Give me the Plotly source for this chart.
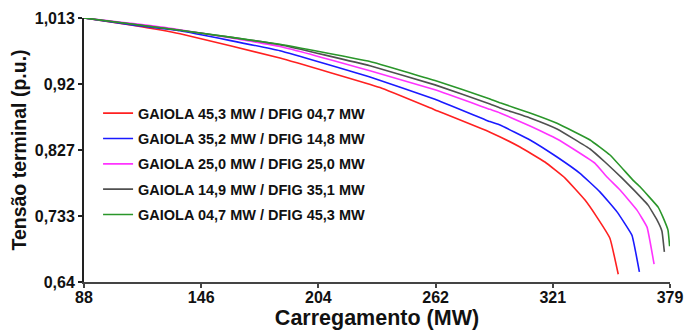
import numpy as np
import plotly.graph_objects as go

# Loading (MW) vs terminal voltage (p.u.) for each cage/DFIG generation split
series_names = [
    "GAIOLA 45,3 MW / DFIG 04,7 MW",
    "GAIOLA 35,2 MW / DFIG 14,8 MW",
    "GAIOLA 25,0 MW / DFIG 25,0 MW",
    "GAIOLA 14,9 MW / DFIG 35,1 MW",
    "GAIOLA 04,7 MW / DFIG 45,3 MW",
]
series_colors = ["#ff2020", "#1a1aff", "#ff33ff", "#505050", "#2a962a"]

red_x = [88, 112.8, 135.7, 185.3, 235.0, 262.3, 289.6, 304.5, 316.9, 326.9, 336.8, 342.7, 349.2, 353.3]
red_y = [1.013, 1.0025, 0.9908, 0.9564, 0.9147, 0.8831, 0.8516, 0.8307, 0.8095, 0.7868, 0.7557, 0.7316, 0.7015, 0.6509]

blue_x = [88, 112.8, 135.7, 185.3, 230.0, 262.3, 289.6, 294.6, 309.5, 322.9, 334.3, 344.2, 352.7, 360.1, 363.8]
blue_y = [1.013, 1.0028, 0.9950, 0.9667, 0.9295, 0.8983, 0.8666, 0.8619, 0.8407, 0.8166, 0.7935, 0.7674, 0.7391, 0.7061, 0.6542]

mag_x = [88, 129.2, 185.3, 230.0, 262.3, 289.6, 294.6, 309.5, 322.9, 331.8, 341.8, 347.7, 354.2, 362.6, 367.6, 371.1]
mag_y = [1.013, 0.9993, 0.9728, 0.9384, 0.9115, 0.8839, 0.8789, 0.8605, 0.8421, 0.8265, 0.8077, 0.7883, 0.7699, 0.7415, 0.7175, 0.6651]

gray_x = [88, 135.7, 185.3, 230.0, 262.3, 289.6, 294.6, 309.5, 322.9, 339.3, 346.7, 355.2, 361.6, 368.1, 372.6, 375.0, 376.2]
gray_y = [1.013, 0.9957, 0.9752, 0.9455, 0.9185, 0.8916, 0.8860, 0.8718, 0.8562, 0.8279, 0.8095, 0.7868, 0.7684, 0.7486, 0.7274, 0.7118, 0.6825]

green_x = [88, 135.7, 185.3, 230.0, 262.3, 289.6, 294.6, 309.5, 322.9, 339.3, 349.2, 360.6, 364.1, 373.1, 375.5, 378.0, 378.8]
green_y = [1.013, 0.9957, 0.9759, 0.9515, 0.9246, 0.8987, 0.8931, 0.8789, 0.8643, 0.8407, 0.8194, 0.7840, 0.7745, 0.7458, 0.7316, 0.7132, 0.6906]

x_series = [red_x, blue_x, mag_x, gray_x, green_x]
y_series = [red_y, blue_y, mag_y, gray_y, green_y]

x_range = [88, 379]
y_range = [0.64, 1.013]
x_ticktext = ["88", "146", "204", "262", "321", "379"]
y_ticktext = ["0,64", "0,733", "0,827", "0,92", "1,013"]

FONT = "Liberation Sans, Arial, sans-serif"

fig = go.Figure()
for i, (name, color, xs, ys) in enumerate(zip(series_names, series_colors, x_series, y_series)):
    fig.add_trace(go.Scatter(
        x=xs, y=ys, mode="lines", name=name, legendgroup=f"g{i}",
        line=dict(color=color, width=1.6, shape="spline", smoothing=0.3),
    ))

axis_common = dict(
    showgrid=False, zeroline=False, showline=True, linewidth=2,
    ticks="outside", ticklen=4, tickwidth=1.5, automargin=False,
    tickfont=dict(family=FONT, size=16, color="#111", weight="bold"),
)

fig.update_xaxes(
    range=x_range,
    tickvals=list(np.linspace(x_range[0], x_range[1], len(x_ticktext))),
    ticktext=x_ticktext,
    linecolor="#444", tickcolor="#444",
    ticklabelstandoff=-4,
    title=dict(text="Carregamento (MW)", standoff=4,
               font=dict(family=FONT, size=21.5, color="#111", weight="bold")),
    **axis_common,
)
fig.update_yaxes(
    range=y_range,
    tickvals=list(np.linspace(y_range[0], y_range[1], len(y_ticktext))),
    ticktext=y_ticktext,
    linecolor="#222", tickcolor="#222",
    title=dict(text="Tensão terminal (p.u.)", standoff=3,
               font=dict(family=FONT, size=19.5, color="#111", weight="bold")),
    **axis_common,
)

fig.update_layout(
    width=686, height=336,
    margin=dict(l=84, r=16, t=18, b=54),
    paper_bgcolor="white", plot_bgcolor="white",
    showlegend=True,
    legend=dict(
        x=0.024, y=0.70, xanchor="left", yanchor="top",
        bgcolor="rgba(0,0,0,0)", borderwidth=0,
        font=dict(family=FONT, size=14.5, color="#111", weight="bold"),
        itemwidth=30, tracegroupgap=3.5,
    ),
)

fig.write_html("out.html")
